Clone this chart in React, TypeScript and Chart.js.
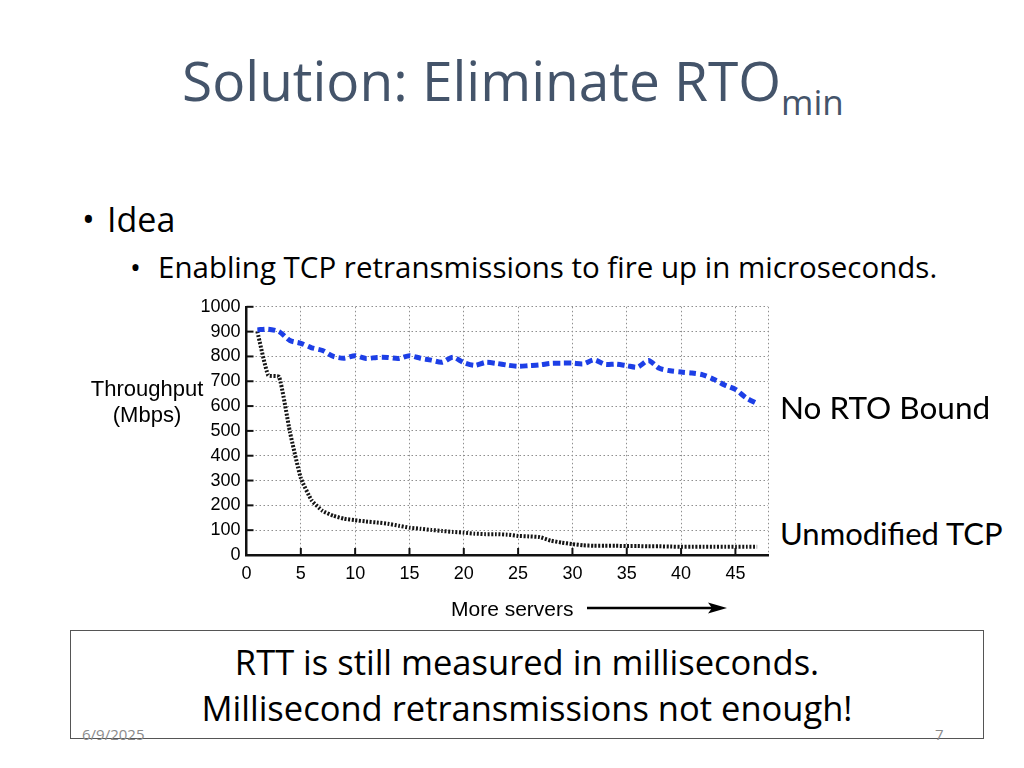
import React, { useEffect, useRef } from 'react';
import { Chart, registerables } from 'chart.js';

Chart.register(...registerables);

// ---- data ----
const SERVERS = [
  1, 2, 3, 4, 5, 6, 7, 8, 9, 10, 11, 12, 13, 14, 15, 16, 17, 18, 19, 20, 21, 22, 23, 24,
  25, 26, 27, 28, 29, 30, 31, 32, 33, 34, 35, 36, 37, 38, 39, 40, 41, 42, 43, 44, 45, 46, 47,
];
const NO_RTO_BOUND = [
  907, 910, 900, 864, 853, 835, 824, 800, 793, 803, 792, 796, 796, 792, 803, 793, 785, 777, 797,
  775, 764, 776, 772, 765, 760, 763, 766, 772, 773, 773, 770, 786, 768, 769, 763, 757, 784, 752,
  742, 737, 733, 726, 708, 685, 667, 633, 610,
];
const UNMODIFIED_TCP = [
  900, 724, 718, 495, 310, 220, 178, 158, 146, 140, 135, 131, 126, 118, 110, 106, 101, 97, 93,
  90, 86, 84, 84, 82, 77, 75, 72, 58, 50, 44, 39, 37, 37, 37, 36, 36, 35, 35, 34, 33, 33, 33,
  33, 33, 33, 33, 33,
];
const X_TICKS = [0, 5, 10, 15, 20, 25, 30, 35, 40, 45, 48];
const Y_TICKS = [0, 100, 200, 300, 400, 500, 600, 700, 800, 900, 1000];
const SERIES_LABELS = ['No RTO Bound', 'Unmodified TCP'];

const OPEN = '"Open Sans", "Noto Sans", sans-serif';
const ARIAL = '"Liberation Sans", Arial, sans-serif';
const LATO = 'Lato, "Open Sans", sans-serif';

const BASE_K: Record<string, number> = { [OPEN]: 0.888, [ARIAL]: 0.8465, [LATO]: 0.887 };

function Txt(props: {
  x: number;
  base: number;
  size: number;
  font: string;
  color?: string;
  align?: 'left' | 'center';
  children: React.ReactNode;
}) {
  const { x, base, size, font, color = '#000', align = 'left', children } = props;
  const top = base - size * (BASE_K[font] ?? 0.88);
  const style: React.CSSProperties = {
    position: 'absolute',
    top,
    fontFamily: font,
    fontSize: size,
    lineHeight: `${size}px`,
    color,
    whiteSpace: 'nowrap',
  };
  if (align === 'center') {
    style.left = x - 600;
    style.width = 1200;
    style.textAlign = 'center';
  } else {
    style.left = x;
  }
  return <div style={style}>{children}</div>;
}

const innerTicks = {
  id: 'innerTicks',
  afterDraw(chart: any) {
    const { ctx, chartArea, scales } = chart;
    const x = scales.x;
    const y = scales.y;
    ctx.save();
    ctx.strokeStyle = '#111';
    ctx.lineWidth = 2;
    X_TICKS.filter((v) => v > 0 && v % 5 === 0).forEach((v) => {
      const px = x.getPixelForValue(v);
      ctx.beginPath();
      ctx.moveTo(px, chartArea.bottom);
      ctx.lineTo(px, chartArea.bottom - 7);
      ctx.stroke();
    });
    Y_TICKS.filter((v) => v > 0).forEach((v) => {
      const py = y.getPixelForValue(v);
      ctx.beginPath();
      ctx.moveTo(chartArea.left, py);
      ctx.lineTo(chartArea.left + 7, py);
      ctx.stroke();
    });
    ctx.restore();
  },
};

function ThroughputChart() {
  const ref = useRef<HTMLCanvasElement | null>(null);
  useEffect(() => {
    if (!ref.current) return;
    const tickFont = { family: '"Liberation Sans", Arial, sans-serif', size: 18 };
    const chart = new Chart(ref.current, {
      type: 'line',
      data: {
        datasets: [
          {
            label: SERIES_LABELS[0],
            data: SERVERS.map((s, i) => ({ x: s, y: NO_RTO_BOUND[i] })),
            borderColor: '#1d3fe6',
            borderWidth: 5,
            borderDash: [7, 4],
            pointRadius: 0,
            tension: 0.25,
            fill: false,
          },
          {
            label: SERIES_LABELS[1],
            data: SERVERS.map((s, i) => ({ x: s, y: UNMODIFIED_TCP[i] })),
            borderColor: '#151515',
            borderWidth: 4,
            borderDash: [2, 1.6],
            pointRadius: 0,
            tension: 0.15,
            fill: false,
          },
        ],
      },
      options: {
        animation: false,
        responsive: false,
        maintainAspectRatio: false,
        layout: { padding: { top: 10, right: 12, left: 0, bottom: 0 } },
        plugins: { legend: { display: false }, tooltip: { enabled: false } },
        scales: {
          x: {
            type: 'linear',
            min: 0,
            max: 48,
            afterBuildTicks: (s: any) => {
              s.ticks = X_TICKS.map((v) => ({ value: v }));
            },
            afterFit: (s: any) => {
              s.height = 55;
            },
            ticks: {
              callback: (v: any) => (Number(v) % 5 === 0 ? String(v) : ''),
              font: tickFont,
              color: '#000',
              padding: 8,
              maxRotation: 0,
              autoSkip: false,
            },
            grid: { color: '#8f8f8f', lineWidth: 1, drawTicks: false },
            border: { display: true, color: '#111', width: 2.5, dash: [1.5, 2.5] },
          },
          y: {
            type: 'linear',
            min: 0,
            max: 1000,
            afterBuildTicks: (s: any) => {
              s.ticks = Y_TICKS.map((v) => ({ value: v }));
            },
            afterFit: (s: any) => {
              s.width = 56.5;
            },
            ticks: {
              callback: (v: any) => String(v),
              font: tickFont,
              color: '#000',
              padding: 6,
              autoSkip: false,
            },
            grid: { color: '#8f8f8f', lineWidth: 1, drawTicks: false },
            border: { display: true, color: '#111', width: 2.5, dash: [1.5, 2.5] },
          },
        },
      },
      plugins: [innerTicks],
    } as any);
    return () => chart.destroy();
  }, []);
  return (
    <canvas
      ref={ref}
      width={590}
      height={320}
      style={{ position: 'absolute', left: 190, top: 290, width: 590, height: 320 }}
    />
  );
}

export default function App() {
  return (
    <div
      style={{
        position: 'fixed',
        left: 0,
        top: 0,
        width: 1024,
        height: 768,
        background: '#fff',
        overflow: 'hidden',
      }}
    >
      <Txt x={182} base={101} size={55} font={OPEN} color="#44546a">
        Solution: Eliminate RTO
      </Txt>
      <Txt x={781} base={115} size={35} font={OPEN} color="#44546a">
        min
      </Txt>

      <Txt x={82} base={232} size={34} font={OPEN}>
        •
      </Txt>
      <Txt x={107} base={232} size={34} font={OPEN}>
        Idea
      </Txt>
      <Txt x={130} base={278} size={29} font={OPEN}>
        •
      </Txt>
      <Txt x={158} base={278} size={29.5} font={OPEN}>
        Enabling TCP retransmissions to fire up in microseconds.
      </Txt>

      <ThroughputChart />

      <Txt x={147} base={397} size={22} font={ARIAL} align="center">
        Throughput
      </Txt>
      <Txt x={147} base={423} size={22} font={ARIAL} align="center">
        (Mbps)
      </Txt>
      <Txt x={451} base={616} size={21} font={ARIAL}>
        More servers
      </Txt>
      <svg
        width={160}
        height={20}
        style={{ position: 'absolute', left: 580, top: 598 }}
      >
        <line x1={7} y1={10} x2={136} y2={10} stroke="#000" strokeWidth={2.5} />
        <polygon points="147,10 128,4.5 132,10 128,15.5" fill="#000" />
      </svg>

      <Txt x={780} base={420} size={31.5} font={LATO}>
        {SERIES_LABELS[0]}
      </Txt>
      <Txt x={780} base={545} size={31} font={LATO}>
        {SERIES_LABELS[1]}
      </Txt>

      <div
        style={{
          position: 'absolute',
          left: 70,
          top: 630,
          width: 912,
          height: 107,
          border: '1px solid #555',
        }}
      />
      <Txt x={527} base={676} size={34.5} font={OPEN} align="center">
        RTT is still measured in milliseconds.
      </Txt>
      <Txt x={527} base={722} size={34.5} font={OPEN} align="center">
        Millisecond retransmissions not enough!
      </Txt>
      <Txt x={82} base={740} size={15} font={OPEN} color="#8b8b8b">
        6/9/2025
      </Txt>
      <Txt x={935} base={740} size={15} font={OPEN} color="#8b8b8b">
        7
      </Txt>
    </div>
  );
}
